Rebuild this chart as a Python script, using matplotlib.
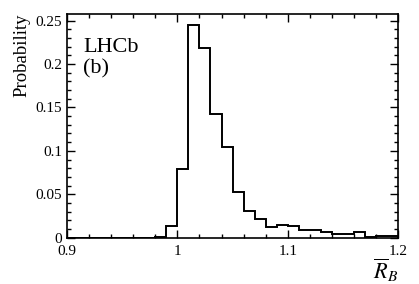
import matplotlib
matplotlib.use("Agg")
import matplotlib.pyplot as plt
import numpy as np

plt.rcParams['font.family'] = ['Liberation Serif', 'DejaVu Serif']
plt.rcParams['mathtext.fontset'] = 'stix'

# bin edges 0.90 .. 1.20, width 0.01
edges = np.round(np.arange(0.90, 1.2001, 0.01), 3)
probs = [0, 0, 0, 0, 0, 0, 0, 0, 0.0007, 0.0138,
         0.079, 0.2455, 0.218, 0.1425, 0.105, 0.0523, 0.0308, 0.0219, 0.012, 0.0146,
         0.0135, 0.0089, 0.0089, 0.0069, 0.0043, 0.0043, 0.0062, 0.0012, 0.0015, 0.0015]

fig = plt.figure(figsize=(4.19, 2.84), dpi=100)
ax = fig.add_axes([0.16, 0.163, 0.79, 0.788])

ax.stairs(probs, edges, color='black', linewidth=1.4)

ax.set_xlim(0.9, 1.2)
ax.set_ylim(0, 0.2577)
ax.set_xticks([0.9, 1.0, 1.1, 1.2])
ax.set_xticklabels(['0.9', '1', '1.1', '1.2'])
ax.set_xticks(np.arange(0.9, 1.2001, 0.02), minor=True)
ax.set_yticks([0, 0.05, 0.1, 0.15, 0.2, 0.25])
ax.set_yticklabels(['0', '0.05', '0.1', '0.15', '0.2', '0.25'])
ax.set_yticks(np.arange(0, 0.2577, 0.01), minor=True)

ax.tick_params(which='both', direction='in', top=True, right=True, labelsize=11, width=1)
ax.tick_params(which='major', length=6)
ax.tick_params(which='minor', length=3)
ax.tick_params(axis='x', pad=5)
for s in ax.spines.values():
    s.set_linewidth(1.2)

ax.set_ylabel('Probability', fontsize=13.5, loc='top')
ax.set_xlabel(r'$\overline{R}_B$', fontsize=16)
ax.xaxis.set_label_coords(1.0, -0.185)
ax.xaxis.label.set_ha('right')
ax.xaxis.label.set_va('baseline')

ax.text(0.048, 0.83, 'LHCb', transform=ax.transAxes, fontsize=16,
        va='baseline', ha='left')
ax.text(0.048, 0.732, '(b)', transform=ax.transAxes, fontsize=16,
        va='baseline', ha='left')

fig.savefig('out.png', dpi=100)
